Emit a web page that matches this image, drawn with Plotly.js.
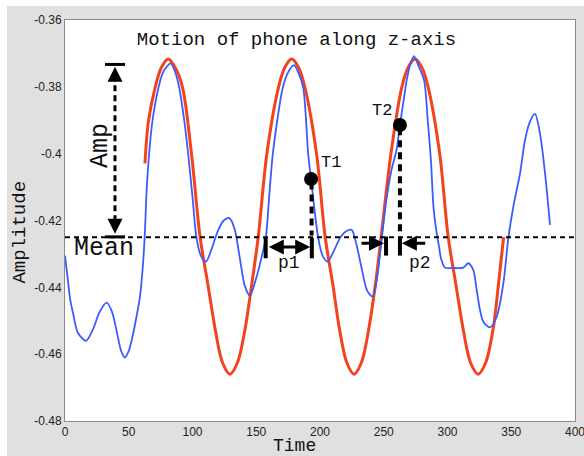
<!DOCTYPE html>
<html>
<head>
<meta charset="utf-8">
<script src="https://cdn.plot.ly/plotly-3.0.1.min.js"></script>
<style>html,body{margin:0;padding:0;background:#fff;}#chart{width:584px;height:456px;}</style>
</head>
<body>
<div id="chart"></div>
<script>
// ---- Data ----
const timeBlue = [0, 2, 4, 6.3, 10, 16.5, 22, 27, 32.7, 37, 41, 44, 47, 50, 52.3, 55.5, 58.8, 61, 62.5, 64.1, 65.9, 68.5, 73.2, 77.1, 82.9, 86.5, 89.7, 93.5, 96.7, 100, 103, 106.5, 110.6, 115, 120, 124.5, 128.9, 133, 137, 141, 145, 150.3, 154.3, 157.6, 160.3, 162.9, 166.5, 170.7, 175.2, 179.6, 183.3, 186.9, 190.8, 193, 198.5, 202, 206, 211, 216, 220.5, 224.8, 228.5, 232.5, 237, 241.3, 245, 248.4, 252, 256, 260, 262.7, 266, 268, 271, 273.7, 277, 281.6, 284.5, 287, 289, 291, 293, 295, 298, 304, 312.4, 316.3, 320.2, 322.9, 325.5, 328.1, 333.3, 338.6, 343.8, 347.7, 351.6, 356.9, 360.8, 364.7, 368.6, 372.5, 376.5, 380.4];
const ampBlue = [-0.4305, -0.437, -0.4435, -0.4477, -0.4535, -0.456, -0.4525, -0.4475, -0.4446, -0.4475, -0.454, -0.459, -0.461, -0.459, -0.4558, -0.450, -0.4428, -0.434, -0.4248, -0.4104, -0.4004, -0.3904, -0.3805, -0.3755, -0.373, -0.3757, -0.3805, -0.390, -0.4004, -0.413, -0.4248, -0.4305, -0.4323, -0.4285, -0.4230, -0.4200, -0.4193, -0.4225, -0.4310, -0.4395, -0.4425, -0.4368, -0.4308, -0.4248, -0.412, -0.4004, -0.390, -0.3804, -0.3755, -0.3735, -0.3760, -0.3804, -0.4004, -0.4076, -0.4250, -0.4305, -0.4323, -0.4290, -0.4250, -0.4232, -0.4228, -0.4270, -0.4340, -0.4410, -0.4428, -0.4365, -0.4253, -0.414, -0.405, -0.3989, -0.3914, -0.383, -0.378, -0.373, -0.3708, -0.3735, -0.378, -0.390, -0.402, -0.416, -0.4225, -0.427, -0.4315, -0.4341, -0.4342, -0.4341, -0.4328, -0.4348, -0.4408, -0.4468, -0.4503, -0.452, -0.4488, -0.4388, -0.4253, -0.4159, -0.4059, -0.3959, -0.3904, -0.3881, -0.3939, -0.4059, -0.4213];

const timeRed = [62.7, 65.4, 70.6, 75.5, 81, 86.5, 92.3, 99.3, 105.9, 112, 118, 123.5, 129.4, 135.3, 141, 146.5, 151.6, 158.2, 167.3, 172.3, 177.8, 183.3, 188.3, 197.4, 204, 210, 215.5, 221, 226.7, 232.5, 238, 243.5, 248, 255.5, 264, 269, 274.5, 280, 285, 294, 300.5, 306.5, 312.5, 318, 324, 330, 336, 340, 344];
const ampRed = [-0.4029, -0.3904, -0.3804, -0.3743, -0.3717, -0.3743, -0.3804, -0.4004, -0.4248, -0.439, -0.453, -0.4625, -0.466, -0.4625, -0.453, -0.439, -0.4248, -0.4004, -0.3804, -0.3743, -0.3717, -0.3743, -0.3804, -0.4004, -0.4248, -0.439, -0.453, -0.4625, -0.466, -0.4625, -0.453, -0.439, -0.4248, -0.4004, -0.3804, -0.3743, -0.3717, -0.3743, -0.3804, -0.4004, -0.4248, -0.439, -0.453, -0.4625, -0.466, -0.4625, -0.452, -0.439, -0.425];

const markerTimes = [193, 262.7];
const markerAmps = [-0.4076, -0.3914];
const markerLabels = ['T1', 'T2'];

const meanLevel = -0.425;

const xTickVals = [0, 50, 100, 150, 200, 250, 300, 350, 400];
const xTickText = ['0', '50', '100', '150', '200', '250', '300', '350', '400'];
const yTickVals = [-0.48, -0.46, -0.44, -0.42, -0.4, -0.38, -0.36];
const yTickText = ['-0.48', '-0.46', '-0.44', '-0.42', '-0.4', '-0.38', '-0.36'];

// ---- Styling ----
const MONO = 'Liberation Mono, Courier New, monospace';
const SANS = 'Liberation Sans, Arial, sans-serif';
const INK = '#111111';

const traces = [
  {x: timeRed, y: ampRed, type: 'scatter', mode: 'lines',
   line: {color: '#f2431d', width: 3, shape: 'spline', smoothing: 0.9}, hoverinfo: 'skip'},
  {x: timeBlue, y: ampBlue, type: 'scatter', mode: 'lines',
   line: {color: '#3a5cff', width: 1.8, shape: 'spline', smoothing: 0.8}, hoverinfo: 'skip'},
  {x: markerTimes, y: markerAmps, type: 'scatter', mode: 'markers',
   marker: {color: '#000', size: 14}, hoverinfo: 'skip'}
];

const seg = (x0, y0, x1, y1, w, dash) => ({type: 'line', xref: 'x', yref: 'y', x0, y0, x1, y1,
  line: {color: '#000', width: w, dash: dash || 'solid'}});

const shapes = [
  // white strips of the outer frame
  {type: 'rect', xref: 'paper', yref: 'paper', x0: -0.2, x1: 1.2, y0: 1.0349, y1: 1.2,
   fillcolor: '#ffffff', line: {width: 0}, layer: 'below'},
  {type: 'rect', xref: 'paper', yref: 'paper', x0: -0.2, x1: -0.1137, y0: -0.2, y1: 1.2,
   fillcolor: '#ffffff', line: {width: 0}, layer: 'below'},
  // mean line
  seg(0, meanLevel, 400, meanLevel, 2, '5px,4px'),
  // amplitude marker
  seg(39.2, -0.3765, 39.2, -0.4215, 3, '6px,4px'),
  seg(31.4, -0.3733, 47.1, -0.3733, 3),
  seg(31.4, -0.4249, 47.1, -0.4249, 3),
  // T1 / T2 drop lines
  seg(markerTimes[0] + 0.4, markerAmps[0] - 0.001, markerTimes[0] + 0.4, -0.4245, 4, '7px,5px'),
  seg(markerTimes[1], markerAmps[1] - 0.001, markerTimes[1], -0.4238, 4, '7px,5px'),
  // bars of p1 / p2
  seg(157.4, -0.4252, 157.4, -0.4313, 4),
  seg(193.6, -0.4252, 193.6, -0.4313, 4),
  seg(251.8, -0.4248, 251.8, -0.4305, 4),
  seg(262.7, -0.4248, 262.7, -0.4305, 4)
];

const arrow = (x, y, ax, ay, side) => ({x, y, ax, ay, xref: 'x', yref: 'y', axref: 'x', ayref: 'y',
  text: '', showarrow: true, arrowhead: 2, arrowsize: 1, arrowwidth: 3, arrowcolor: '#000',
  arrowside: side || 'end', standoff: 0, startstandoff: 0});

const label = (x, y, text, size, angle) => ({x, y, xref: 'x', yref: 'y', text, showarrow: false,
  textangle: angle || 0, font: {family: MONO, size, color: INK}, xanchor: 'center', yanchor: 'middle'});

const annotations = [
  arrow(39.2, -0.3740, 39.2, -0.3785),
  arrow(39.2, -0.4240, 39.2, -0.4195),
  arrow(192.3, -0.4279, 158.7, -0.4279, 'end+start'),
  arrow(250.2, -0.4268, 231.4, -0.4268),
  arrow(264.2, -0.4268, 283.7, -0.4268),
  label(28.2, -0.3974, 'Amp', 25, -90),
  label(30.2, -0.4284, 'Mean', 25),
  label(208.6, -0.4025, markerLabels[0], 17),
  label(249, -0.3872, markerLabels[1], 17),
  label(175.7, -0.4327, 'p1', 18),
  label(278.4, -0.4327, 'p2', 18),
  {x: 0.4500, y: -0.0625, xref: 'paper', yref: 'paper', text: 'Time', showarrow: false,
   font: {family: MONO, size: 18, color: INK}, xanchor: 'center', yanchor: 'middle'},
  {x: -0.0882, y: 0.470, xref: 'paper', yref: 'paper', text: 'Amplitude', showarrow: false, textangle: -90,
   font: {family: MONO, size: 19, color: INK}, xanchor: 'center', yanchor: 'middle'}
];

const layout = {
  width: 584, height: 456,
  margin: {l: 65, r: 9, t: 20, b: 35, pad: 0},
  paper_bgcolor: '#e0e0e0', plot_bgcolor: '#ffffff',
  showlegend: false,
  title: {text: 'Motion of phone along z-axis', xref: 'paper', x: 0.4539, xanchor: 'center',
          yref: 'container', y: 0.915, yanchor: 'middle',
          font: {family: MONO, size: 19, color: INK}},
  xaxis: {range: [0, 400], tickmode: 'array', tickvals: xTickVals, ticktext: xTickText,
          ticks: '', showgrid: false, zeroline: false, showline: true, mirror: true,
          ticklabeloverflow: 'allow',
          linecolor: '#8a8a8a', linewidth: 1, tickfont: {family: SANS, size: 12, color: '#222'}},
  yaxis: {range: [-0.48, -0.36], tickmode: 'array', tickvals: yTickVals, ticktext: yTickText,
          ticks: '', showgrid: false, zeroline: false, showline: true, mirror: true,
          ticklabeloverflow: 'allow',
          linecolor: '#8a8a8a', linewidth: 1, tickfont: {family: SANS, size: 12, color: '#222'}},
  shapes, annotations
};

Plotly.newPlot('chart', traces, layout, {displayModeBar: false, staticPlot: true});
</script>
</body>
</html>
